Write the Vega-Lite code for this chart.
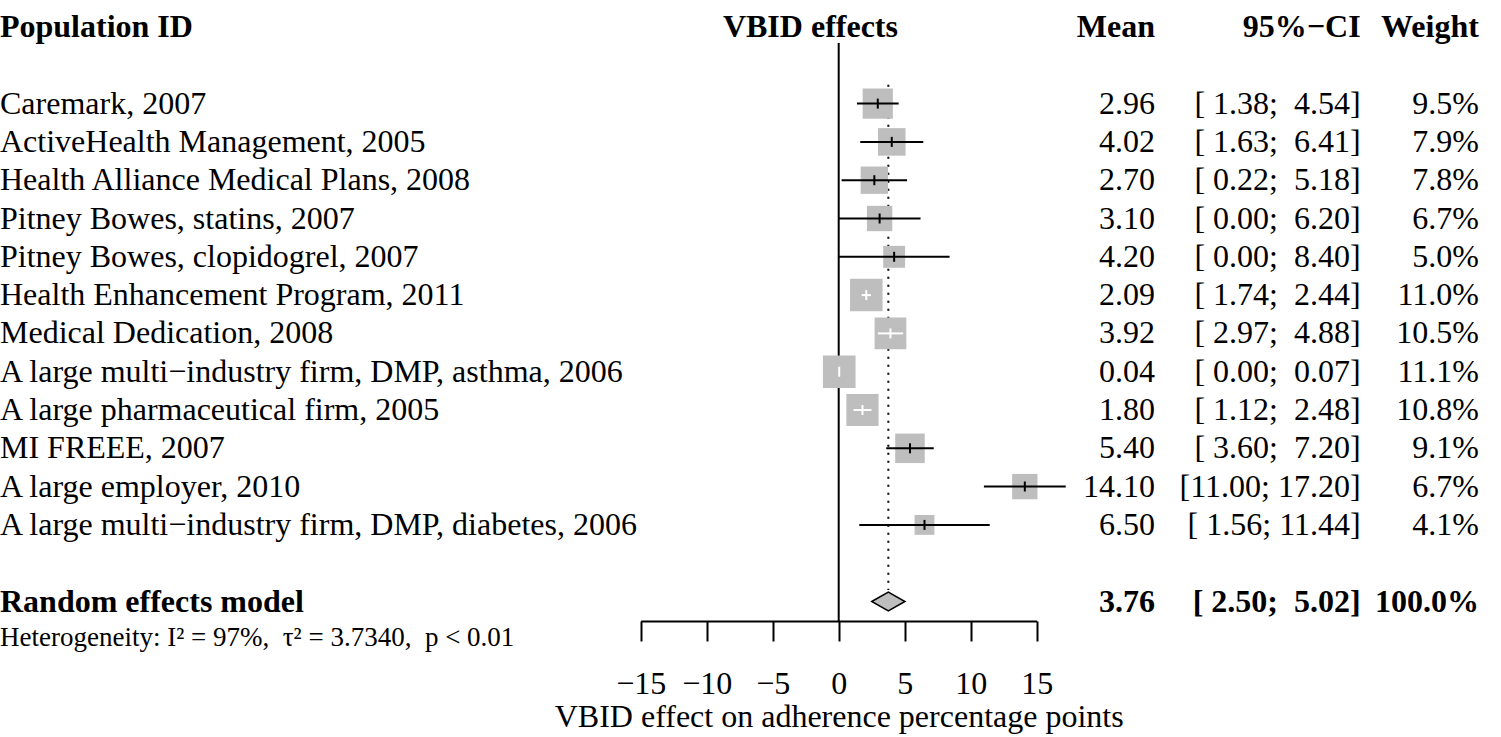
{
  "$schema": "https://vega.github.io/schema/vega-lite/v6.json",
  "width": 1501,
  "height": 621,
  "autosize": {"type": "none"},
  "padding": {"left": 0, "top": 0, "right": 0, "bottom": 116},
  "background": "white",
  "config": {
    "view": {"stroke": null},
    "font": "Liberation Serif",
    "text": {"font": "Liberation Serif", "fontSize": 32, "color": "black", "baseline": "middle"},
    "axisX": {
      "grid": false, "domainColor": "black", "domainWidth": 2, "tickColor": "black", "tickWidth": 2, "tickSize": 20,
      "labelFont": "Liberation Serif", "labelFontSize": 32, "labelColor": "black", "labelPadding": 27,
      "labelFlush": false, "labelOverlap": false, "titleFont": "Liberation Serif", "titleFontSize": 32,
      "titleFontWeight": "normal", "titleColor": "black", "titlePadding": 2}
  },
  "datasets": {
    "studies": [
      {"row": 2, "label": "Caremark, 2007", "mean": 2.96, "lower": 1.38, "upper": 4.54, "weight": 0.095, "ci": "[\u00a01.38;\u00a0\u00a04.54]"},
      {"row": 3, "label": "ActiveHealth Management, 2005", "mean": 4.02, "lower": 1.63, "upper": 6.41, "weight": 0.079, "ci": "[\u00a01.63;\u00a0\u00a06.41]"},
      {"row": 4, "label": "Health Alliance Medical Plans, 2008", "mean": 2.70, "lower": 0.22, "upper": 5.18, "weight": 0.078, "ci": "[\u00a00.22;\u00a0\u00a05.18]"},
      {"row": 5, "label": "Pitney Bowes, statins, 2007", "mean": 3.10, "lower": 0.00, "upper": 6.20, "weight": 0.067, "ci": "[\u00a00.00;\u00a0\u00a06.20]"},
      {"row": 6, "label": "Pitney Bowes, clopidogrel, 2007", "mean": 4.20, "lower": 0.00, "upper": 8.40, "weight": 0.050, "ci": "[\u00a00.00;\u00a0\u00a08.40]"},
      {"row": 7, "label": "Health Enhancement Program, 2011", "mean": 2.09, "lower": 1.74, "upper": 2.44, "weight": 0.110, "ci": "[\u00a01.74;\u00a0\u00a02.44]"},
      {"row": 8, "label": "Medical Dedication, 2008", "mean": 3.92, "lower": 2.97, "upper": 4.88, "weight": 0.105, "ci": "[\u00a02.97;\u00a0\u00a04.88]"},
      {"row": 9, "label": "A large multi\u2212industry firm, DMP, asthma, 2006", "mean": 0.04, "lower": 0.00, "upper": 0.07, "weight": 0.111, "ci": "[\u00a00.00;\u00a0\u00a00.07]"},
      {"row": 10, "label": "A large pharmaceutical firm, 2005", "mean": 1.80, "lower": 1.12, "upper": 2.48, "weight": 0.108, "ci": "[\u00a01.12;\u00a0\u00a02.48]"},
      {"row": 11, "label": "MI FREEE, 2007", "mean": 5.40, "lower": 3.60, "upper": 7.20, "weight": 0.091, "ci": "[\u00a03.60;\u00a0\u00a07.20]"},
      {"row": 12, "label": "A large employer, 2010", "mean": 14.10, "lower": 11.00, "upper": 17.20, "weight": 0.067, "ci": "[11.00;\u00a017.20]"},
      {"row": 13, "label": "A large multi\u2212industry firm, DMP, diabetes, 2006", "mean": 6.50, "lower": 1.56, "upper": 11.44, "weight": 0.041, "ci": "[\u00a01.56;\u00a011.44]"}
    ],
    "summary": [
      {"row": 15, "label": "Random effects model", "mean": 3.76, "lower": 2.50, "upper": 5.02, "weight": 1.0, "ci": "[\u00a02.50;\u00a0\u00a05.02]"}
    ]
  },
  "layer": [
    {
      "data": {"values": [{}]},
      "mark": {"type": "rule", "color": "black", "strokeWidth": 2},
      "encoding": {
        "x": {"datum": 0, "type": "quantitative", "scale": {"domain": [-15, 15], "range": [640.7, 1036.7], "nice": false, "zero": false}},
        "y": {"datum": 0.42, "type": "quantitative", "scale": {"domain": [-0.705, 15.509], "range": [0, 621], "nice": false, "zero": false}, "axis": null},
        "y2": {"datum": 15.509}
      }
    },
    {
      "data": {"name": "summary"},
      "mark": {"type": "rule", "color": "black", "strokeWidth": 2, "strokeDash": [2, 6]},
      "encoding": {
        "x": {"field": "mean", "type": "quantitative", "scale": {"domain": [-15, 15], "range": [640.7, 1036.7], "nice": false, "zero": false}},
        "y": {"datum": 1.51, "type": "quantitative", "scale": {"domain": [-0.705, 15.509], "range": [0, 621], "nice": false, "zero": false}, "axis": null},
        "y2": {"datum": 14.7}
      }
    },
    {
      "data": {"name": "studies"},
      "mark": {"type": "point", "shape": "square", "filled": true, "color": "#bebebe", "opacity": 1, "strokeWidth": 0},
      "encoding": {
        "x": {"field": "mean", "type": "quantitative",
          "scale": {"domain": [-15, 15], "range": [640.7, 1036.7], "nice": false, "zero": false},
          "axis": {"title": "VBID effect on adherence percentage points", "values": [-15, -10, -5, 0, 5, 10, 15], "format": "d"}},
        "y": {"field": "row", "type": "quantitative", "scale": {"domain": [-0.705, 15.509], "range": [0, 621], "nice": false, "zero": false}, "axis": null},
        "size": {"field": "weight", "type": "quantitative", "scale": {"domain": [0, 0.1], "range": [0, 960]}, "legend": null}
      }
    },
    {
      "data": {"name": "studies"},
      "mark": {"type": "rule", "strokeWidth": 2},
      "encoding": {
        "x": {"field": "lower", "type": "quantitative", "scale": {"domain": [-15, 15], "range": [640.7, 1036.7], "nice": false, "zero": false}},
        "x2": {"field": "upper"},
        "y": {"field": "row", "type": "quantitative", "scale": {"domain": [-0.705, 15.509], "range": [0, 621], "nice": false, "zero": false}, "axis": null},
        "color": {"condition": {"test": "datum.upper - datum.lower < 2.5", "value": "white"}, "value": "black"}
      }
    },
    {
      "data": {"name": "studies"},
      "mark": {"type": "tick", "orient": "vertical", "size": 10, "thickness": 2, "opacity": 1},
      "encoding": {
        "x": {"field": "mean", "type": "quantitative", "scale": {"domain": [-15, 15], "range": [640.7, 1036.7], "nice": false, "zero": false}},
        "y": {"field": "row", "type": "quantitative", "scale": {"domain": [-0.705, 15.509], "range": [0, 621], "nice": false, "zero": false}, "axis": null},
        "color": {"condition": {"test": "datum.upper - datum.lower < 2.5", "value": "white"}, "value": "black"}
      }
    },
    {
      "data": {"name": "summary"},
      "mark": {"type": "point", "shape": "M-1,0L0,-0.57L1,0L0,0.57Z", "filled": true, "fill": "#bebebe", "stroke": "black", "strokeWidth": 1.5, "opacity": 1, "size": 1106},
      "encoding": {
        "x": {"field": "mean", "type": "quantitative", "scale": {"domain": [-15, 15], "range": [640.7, 1036.7], "nice": false, "zero": false}},
        "y": {"field": "row", "type": "quantitative", "scale": {"domain": [-0.705, 15.509], "range": [0, 621], "nice": false, "zero": false}, "axis": null}
      }
    },
    {
      "data": {"name": "studies"},
      "mark": {"type": "text", "align": "left"},
      "encoding": {
        "x": {"datum": -63.54, "type": "quantitative", "scale": {"domain": [-15, 15], "range": [640.7, 1036.7], "nice": false, "zero": false}},
        "y": {"field": "row", "type": "quantitative", "scale": {"domain": [-0.705, 15.509], "range": [0, 621], "nice": false, "zero": false}, "axis": null},
        "text": {"field": "label"}
      }
    },
    {
      "data": {"name": "studies"},
      "mark": {"type": "text", "align": "right"},
      "encoding": {
        "x": {"datum": 23.96, "type": "quantitative", "scale": {"domain": [-15, 15], "range": [640.7, 1036.7], "nice": false, "zero": false}},
        "y": {"field": "row", "type": "quantitative", "scale": {"domain": [-0.705, 15.509], "range": [0, 621], "nice": false, "zero": false}, "axis": null},
        "text": {"field": "mean", "type": "quantitative", "format": ".2f"}
      }
    },
    {
      "data": {"name": "studies"},
      "mark": {"type": "text", "align": "right"},
      "encoding": {
        "x": {"datum": 39.54, "type": "quantitative", "scale": {"domain": [-15, 15], "range": [640.7, 1036.7], "nice": false, "zero": false}},
        "y": {"field": "row", "type": "quantitative", "scale": {"domain": [-0.705, 15.509], "range": [0, 621], "nice": false, "zero": false}, "axis": null},
        "text": {"field": "ci"}
      }
    },
    {
      "data": {"name": "studies"},
      "mark": {"type": "text", "align": "right"},
      "encoding": {
        "x": {"datum": 48.5, "type": "quantitative", "scale": {"domain": [-15, 15], "range": [640.7, 1036.7], "nice": false, "zero": false}},
        "y": {"field": "row", "type": "quantitative", "scale": {"domain": [-0.705, 15.509], "range": [0, 621], "nice": false, "zero": false}, "axis": null},
        "text": {"field": "weight", "type": "quantitative", "format": ".1%"}
      }
    },
    {
      "data": {"name": "summary"},
      "mark": {"type": "text", "align": "left", "fontWeight": "bold"},
      "encoding": {
        "x": {"datum": -63.54, "type": "quantitative", "scale": {"domain": [-15, 15], "range": [640.7, 1036.7], "nice": false, "zero": false}},
        "y": {"field": "row", "type": "quantitative", "scale": {"domain": [-0.705, 15.509], "range": [0, 621], "nice": false, "zero": false}, "axis": null},
        "text": {"field": "label"}
      }
    },
    {
      "data": {"name": "summary"},
      "mark": {"type": "text", "align": "right", "fontWeight": "bold"},
      "encoding": {
        "x": {"datum": 23.96, "type": "quantitative", "scale": {"domain": [-15, 15], "range": [640.7, 1036.7], "nice": false, "zero": false}},
        "y": {"field": "row", "type": "quantitative", "scale": {"domain": [-0.705, 15.509], "range": [0, 621], "nice": false, "zero": false}, "axis": null},
        "text": {"field": "mean", "type": "quantitative", "format": ".2f"}
      }
    },
    {
      "data": {"name": "summary"},
      "mark": {"type": "text", "align": "right", "fontWeight": "bold"},
      "encoding": {
        "x": {"datum": 39.54, "type": "quantitative", "scale": {"domain": [-15, 15], "range": [640.7, 1036.7], "nice": false, "zero": false}},
        "y": {"field": "row", "type": "quantitative", "scale": {"domain": [-0.705, 15.509], "range": [0, 621], "nice": false, "zero": false}, "axis": null},
        "text": {"field": "ci"}
      }
    },
    {
      "data": {"name": "summary"},
      "mark": {"type": "text", "align": "right", "fontWeight": "bold"},
      "encoding": {
        "x": {"datum": 48.5, "type": "quantitative", "scale": {"domain": [-15, 15], "range": [640.7, 1036.7], "nice": false, "zero": false}},
        "y": {"field": "row", "type": "quantitative", "scale": {"domain": [-0.705, 15.509], "range": [0, 621], "nice": false, "zero": false}, "axis": null},
        "text": {"field": "weight", "type": "quantitative", "format": ".1%"}
      }
    },
    {
      "data": {"values": [{"text": "Population ID"}]},
      "mark": {"type": "text", "align": "left", "fontWeight": "bold"},
      "encoding": {
        "x": {"datum": -63.54, "type": "quantitative", "scale": {"domain": [-15, 15], "range": [640.7, 1036.7], "nice": false, "zero": false}},
        "y": {"datum": 0, "type": "quantitative", "scale": {"domain": [-0.705, 15.509], "range": [0, 621], "nice": false, "zero": false}, "axis": null},
        "text": {"field": "text"}
      }
    },
    {
      "data": {"values": [{"text": "VBID effects"}]},
      "mark": {"type": "text", "align": "right", "fontWeight": "bold"},
      "encoding": {
        "x": {"datum": 4.49, "type": "quantitative", "scale": {"domain": [-15, 15], "range": [640.7, 1036.7], "nice": false, "zero": false}},
        "y": {"datum": 0, "type": "quantitative", "scale": {"domain": [-0.705, 15.509], "range": [0, 621], "nice": false, "zero": false}, "axis": null},
        "text": {"field": "text"}
      }
    },
    {
      "data": {"values": [{"text": "Mean"}]},
      "mark": {"type": "text", "align": "right", "fontWeight": "bold"},
      "encoding": {
        "x": {"datum": 23.96, "type": "quantitative", "scale": {"domain": [-15, 15], "range": [640.7, 1036.7], "nice": false, "zero": false}},
        "y": {"datum": 0, "type": "quantitative", "scale": {"domain": [-0.705, 15.509], "range": [0, 621], "nice": false, "zero": false}, "axis": null},
        "text": {"field": "text"}
      }
    },
    {
      "data": {"values": [{"text": "95%\u2212CI"}]},
      "mark": {"type": "text", "align": "right", "fontWeight": "bold"},
      "encoding": {
        "x": {"datum": 39.54, "type": "quantitative", "scale": {"domain": [-15, 15], "range": [640.7, 1036.7], "nice": false, "zero": false}},
        "y": {"datum": 0, "type": "quantitative", "scale": {"domain": [-0.705, 15.509], "range": [0, 621], "nice": false, "zero": false}, "axis": null},
        "text": {"field": "text"}
      }
    },
    {
      "data": {"values": [{"text": "Weight"}]},
      "mark": {"type": "text", "align": "right", "fontWeight": "bold"},
      "encoding": {
        "x": {"datum": 48.5, "type": "quantitative", "scale": {"domain": [-15, 15], "range": [640.7, 1036.7], "nice": false, "zero": false}},
        "y": {"datum": 0, "type": "quantitative", "scale": {"domain": [-0.705, 15.509], "range": [0, 621], "nice": false, "zero": false}, "axis": null},
        "text": {"field": "text"}
      }
    },
    {
      "data": {"values": [{"text": "Heterogeneity: I\u00b2 = 97%,\u00a0\u00a0\u03c4\u00b2 = 3.7340,\u00a0\u00a0p < 0.01"}]},
      "mark": {"type": "text", "align": "left", "fontSize": 27},
      "encoding": {
        "x": {"datum": -63.54, "type": "quantitative", "scale": {"domain": [-15, 15], "range": [640.7, 1036.7], "nice": false, "zero": false}},
        "y": {"datum": 15.95, "type": "quantitative", "scale": {"domain": [-0.705, 15.509], "range": [0, 621], "nice": false, "zero": false}, "axis": null},
        "text": {"field": "text"}
      }
    }
  ]
}
